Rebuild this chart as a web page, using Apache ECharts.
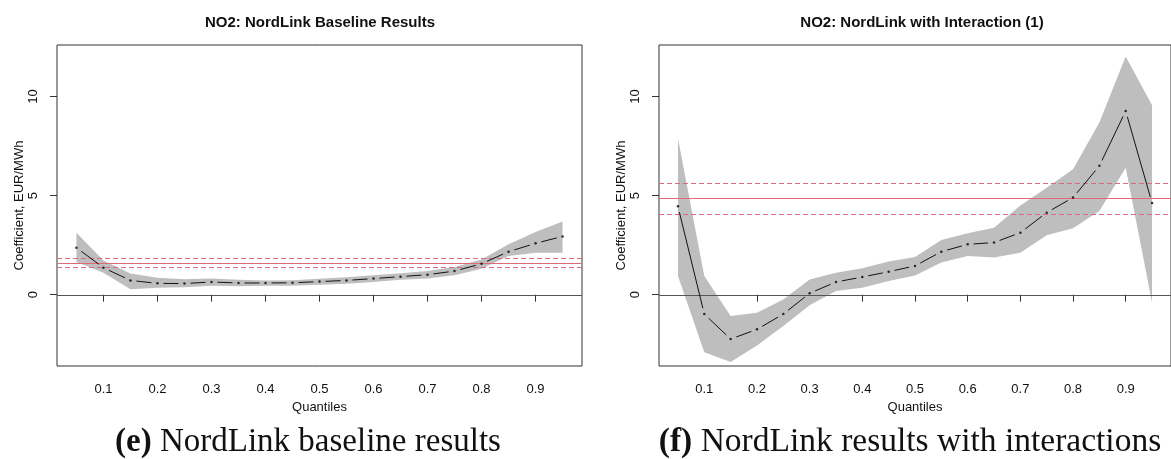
<!DOCTYPE html>
<html>
<head>
<meta charset="utf-8">
<script src="https://cdn.jsdelivr.net/npm/echarts@6/dist/echarts.min.js"></script>
<style>
html, body { margin: 0; padding: 0; background: #fff; }
#chart { width: 1171px; height: 459px; }
</style>
</head>
<body>
<div id="chart"></div>
<script>
// quantiles on the x axis
const quantiles = [0.05, 0.1, 0.15, 0.2, 0.25, 0.3, 0.35, 0.4, 0.45, 0.5, 0.55, 0.6, 0.65, 0.7, 0.75, 0.8, 0.85, 0.9, 0.95];
const xTicks = [0.1, 0.2, 0.3, 0.4, 0.5, 0.6, 0.7, 0.8, 0.9];
const yTicks = [0, 5, 10];

// (e) baseline
const baseCoef  = [2.37, 1.36, 0.72, 0.57, 0.56, 0.64, 0.59, 0.59, 0.60, 0.66, 0.72, 0.81, 0.91, 1.01, 1.19, 1.56, 2.17, 2.59, 2.94];
const baseUpper = [3.13, 1.72, 1.07, 0.86, 0.78, 0.82, 0.75, 0.72, 0.73, 0.80, 0.88, 0.98, 1.08, 1.20, 1.40, 1.78, 2.54, 3.16, 3.69];
const baseLower = [1.65, 1.10, 0.27, 0.35, 0.38, 0.45, 0.42, 0.45, 0.45, 0.50, 0.55, 0.64, 0.75, 0.82, 0.98, 1.31, 1.95, 2.12, 2.12];
const baseOls = [1.62, 1.41, 1.87]; // estimate, lower, upper

// (f) with interaction
const interCoef  = [4.46, -0.98, -2.24, -1.75, -0.98, 0.07, 0.64, 0.89, 1.16, 1.45, 2.17, 2.54, 2.63, 3.13, 4.14, 4.90, 6.50, 9.27, 4.63];
const interUpper = [7.88, 0.94, -1.08, -0.91, -0.24, 0.77, 1.11, 1.33, 1.67, 1.90, 2.76, 3.10, 3.38, 4.50, 5.40, 6.33, 8.69, 12.02, 9.56];
const interLower = [0.94, -2.90, -3.40, -2.56, -1.58, -0.54, 0.18, 0.35, 0.69, 0.97, 1.62, 1.95, 1.87, 2.12, 3.00, 3.35, 4.22, 6.41, -0.40];
const interOls = [4.86, 4.09, 5.62];

const titles = ['NO2: NordLink Baseline Results', 'NO2: NordLink with Interaction (1)'];

const chart = echarts.init(document.getElementById('chart'));

const sans = 'Liberation Sans, Arial, sans-serif';
const serif = 'Liberation Serif, Times New Roman, serif';
const red = '#e3667b';

function makeAxes(k) {
    const x = {
        type: 'value', gridIndex: k, min: 0.014, max: 0.986,
        splitLine: {show: false},
        axisLine: {show: false},
        axisTick: {customValues: xTicks, length: 7, lineStyle: {color: '#333'}},
        axisLabel: {customValues: xTicks, margin: 17, fontSize: 13, fontFamily: sans, color: '#111',
            formatter: v => String(v)},
        name: 'Quantiles', nameLocation: 'middle', nameGap: 31,
        nameTextStyle: {fontSize: 13, fontFamily: sans, color: '#111'}
    };
    const y = {
        type: 'value', gridIndex: k, min: -3.6, max: 12.6,
        splitLine: {show: false},
        axisLine: {show: false},
        axisTick: {customValues: yTicks, length: 7, lineStyle: {color: '#333'}},
        axisLabel: {customValues: yTicks, rotate: 90, margin: 17, fontSize: 13, fontFamily: sans, color: '#111'},
        name: 'Coefficient, EUR/MWh', nameLocation: 'middle', nameGap: 31,
        nameTextStyle: {fontSize: 13, fontFamily: sans, color: '#111'}
    };
    return [x, y];
}

function makeSeries(k, coef, lower, upper, ols) {
    const pts = quantiles.map((q, i) => [q, coef[i]]);
    const segs = quantiles.slice(0, -1).map((q, i) => [q, coef[i], quantiles[i + 1], coef[i + 1]]);
    const band = quantiles.map((q, i) => [q, lower[i], upper[i]]);
    // horizontal reference lines: zero, OLS estimate, OLS interval
    const refLines = [[0, 0], [ols[0], 1], [ols[1], 2], [ols[2], 2]];
    const gap = 6;
    return [
        {
            // confidence band as one polygon
            type: 'custom', xAxisIndex: k, yAxisIndex: k, data: band, z: 1, silent: true,
            renderItem: function (params, api) {
                if (params.dataIndex !== 0) return null;
                const top = band.map(d => api.coord([d[0], d[2]]));
                const bottom = band.map(d => api.coord([d[0], d[1]])).reverse();
                return {
                    type: 'polygon',
                    shape: {points: top.concat(bottom)},
                    style: {fill: '#bebebe'}
                };
            }
        },
        {
            type: 'custom', xAxisIndex: k, yAxisIndex: k, data: refLines, z: 2, silent: true,
            renderItem: function (params, api) {
                const cs = params.coordSys;
                const y = Math.round(api.coord([quantiles[0], api.value(0)])[1]) + 0.5;
                const kind = api.value(1);
                return {
                    type: 'line',
                    shape: {x1: cs.x, y1: y, x2: cs.x + cs.width, y2: y},
                    style: {
                        stroke: kind === 0 ? '#555' : red,
                        lineWidth: 1,
                        lineDash: kind === 2 ? [5, 3] : null
                    }
                };
            }
        },
        {
            // line segments with gaps around each point (R type = "b")
            type: 'custom', xAxisIndex: k, yAxisIndex: k, data: segs, z: 3, silent: true,
            renderItem: function (params, api) {
                const p0 = api.coord([api.value(0), api.value(1)]);
                const p1 = api.coord([api.value(2), api.value(3)]);
                const dx = p1[0] - p0[0], dy = p1[1] - p0[1];
                const len = Math.sqrt(dx * dx + dy * dy);
                if (len <= 2 * gap) return null;
                const ux = dx / len, uy = dy / len;
                return {
                    type: 'line',
                    shape: {x1: p0[0] + ux * gap, y1: p0[1] + uy * gap, x2: p1[0] - ux * gap, y2: p1[1] - uy * gap},
                    style: {stroke: '#111', lineWidth: 1}
                };
            }
        },
        {
            type: 'scatter', xAxisIndex: k, yAxisIndex: k, data: pts,
            symbol: 'circle', symbolSize: 2.5, itemStyle: {color: '#000'}, z: 3, silent: true
        }
    ];
}

const a0 = makeAxes(0), a1 = makeAxes(1);

const option = {
    animation: false,
    backgroundColor: '#fff',
    grid: [
        {left: 57, top: 45, width: 525, height: 321, show: true, borderColor: '#333', borderWidth: 1},
        {left: 659, top: 45, width: 526, height: 321, show: true, borderColor: '#333', borderWidth: 1}
    ],
    xAxis: [a0[0], a1[0]],
    yAxis: [a0[1], a1[1]],
    graphic: [
        {type: 'text', x: 320, y: 23, style: {text: titles[0], textAlign: 'center', textVerticalAlign: 'middle',
            fontSize: 15, fontWeight: 'bold', fontFamily: sans, fill: '#111'}},
        {type: 'text', x: 922, y: 23, style: {text: titles[1], textAlign: 'center', textVerticalAlign: 'middle',
            fontSize: 15, fontWeight: 'bold', fontFamily: sans, fill: '#111'}},
        {type: 'text', x: 308, y: 442, style: {text: '{b|(e)} NordLink baseline results', textAlign: 'center',
            textVerticalAlign: 'middle', fontSize: 33, fontFamily: serif, fill: '#111',
            rich: {b: {fontWeight: 'bold', fontSize: 33, fontFamily: serif}}}},
        {type: 'text', x: 910, y: 442, style: {text: '{b|(f)} NordLink results with interactions', textAlign: 'center',
            textVerticalAlign: 'middle', fontSize: 33.5, fontFamily: serif, fill: '#111',
            rich: {b: {fontWeight: 'bold', fontSize: 33.5, fontFamily: serif}}}}
    ],
    series: [].concat(
        makeSeries(0, baseCoef, baseLower, baseUpper, baseOls),
        makeSeries(1, interCoef, interLower, interUpper, interOls)
    )
};

chart.setOption(option);
</script>
</body>
</html>
